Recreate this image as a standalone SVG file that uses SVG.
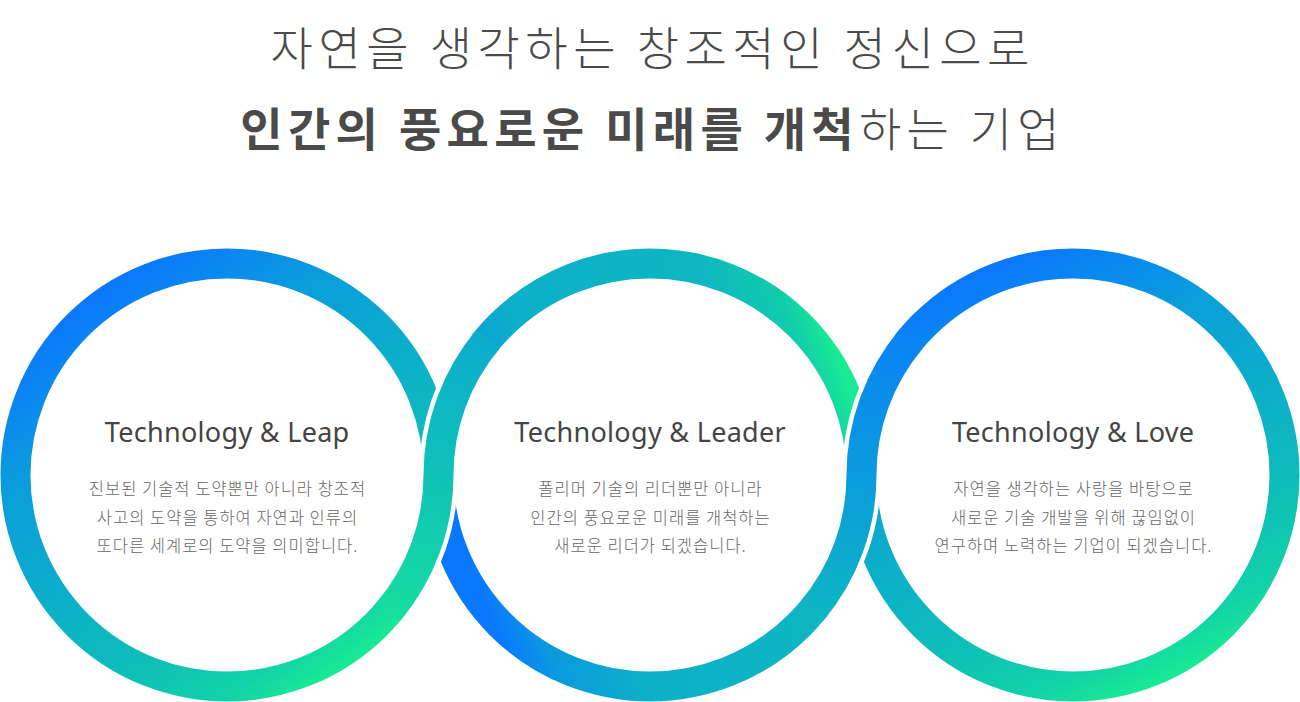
<svg xmlns="http://www.w3.org/2000/svg" width="1300" height="702" viewBox="0 0 1300 702">
  <style>
    .title { font-family: "Noto Sans CJK KR", "Noto Sans", sans-serif; font-size: 46px; fill: #4a4a4a; text-anchor: middle; }
    .light { font-weight: 300; }
    .bold { font-weight: 700; }
    .head { font-family: "Noto Sans", "Open Sans", sans-serif; font-size: 27px; letter-spacing: 0.3px; fill: #444444; text-anchor: middle; }
    .body { font-family: "Noto Sans CJK KR", "Noto Sans", sans-serif; font-size: 16.5px; letter-spacing: 1px; font-weight: 300; fill: #666666; text-anchor: middle; }
    .ring { fill: none; stroke-width: 30; }
    .gap { fill: none; stroke: #ffffff; stroke-width: 39; }
  </style>
  <defs>
    <linearGradient id="g1" gradientUnits="userSpaceOnUse" x1="97.3" y1="289.9" x2="356.7" y2="660.1">
      <stop offset="0" stop-color="#0a77ff"/>
      <stop offset="0.25" stop-color="#0a9ddc"/>
      <stop offset="0.55" stop-color="#0cb2c6"/>
      <stop offset="0.7" stop-color="#0ebbbc"/>
      <stop offset="0.9" stop-color="#12d2a8"/>
      <stop offset="1" stop-color="#19eb94"/>
    </linearGradient>
    <linearGradient id="g2" gradientUnits="userSpaceOnUse" x1="460.6" y1="539" x2="854.6" y2="405.9">
      <stop offset="0" stop-color="#0a77ff"/>
      <stop offset="0.03" stop-color="#0a7ffa"/>
      <stop offset="0.12" stop-color="#0a9ade"/>
      <stop offset="0.3" stop-color="#0cb0c8"/>
      <stop offset="0.75" stop-color="#0db6c2"/>
      <stop offset="0.92" stop-color="#11cdaa"/>
      <stop offset="1" stop-color="#19eb94"/>
    </linearGradient>
    <linearGradient id="g3" gradientUnits="userSpaceOnUse" x1="977.4" y1="270.2" x2="1168.6" y2="679.8">
      <stop offset="0" stop-color="#0a77ff"/>
      <stop offset="0.25" stop-color="#0a9ddc"/>
      <stop offset="0.55" stop-color="#0cb2c6"/>
      <stop offset="0.7" stop-color="#0ebbbc"/>
      <stop offset="0.9" stop-color="#12d2a8"/>
      <stop offset="1" stop-color="#19eb94"/>
    </linearGradient>
    <linearGradient id="s12" gradientUnits="userSpaceOnUse" x1="487.98" y1="339.05" x2="389.02" y2="610.95">
      <stop offset="0" stop-color="#0bacce"/>
      <stop offset="0.5" stop-color="#0fc2b8"/>
      <stop offset="1" stop-color="#16dea0"/>
    </linearGradient>
    <linearGradient id="s23" gradientUnits="userSpaceOnUse" x1="910.98" y1="339.05" x2="812.02" y2="610.95">
      <stop offset="0" stop-color="#0a83f4"/>
      <stop offset="0.5" stop-color="#0a9bdd"/>
      <stop offset="1" stop-color="#0db6c2"/>
    </linearGradient>
  </defs>

  <rect x="0" y="0" width="1300" height="702" fill="#ffffff"/>

  <g id="title">
    <text class="title light" x="652.75" y="65" letter-spacing="5.5">자연을 생각하는 창조적인 정신으로</text>
    <text class="title" x="652.65" y="146" letter-spacing="5.3"><tspan class="bold">인간의 풍요로운 미래를 개척</tspan><tspan class="light">하는 기업</tspan></text>
  </g>

  <g id="connectors">
    <circle class="ring" cx="227" cy="475" r="211.5" stroke="url(#g1)"/>
    <circle class="ring" cx="650" cy="475" r="211.5" stroke="url(#g2)"/>
    <circle class="ring" cx="1073" cy="475" r="211.5" stroke="url(#g3)"/>
    <path class="gap" d="M483.34 344.79 A211.5 211.5 0 0 0 438.5 475 A211.5 211.5 0 0 1 393.66 605.21"/>
    <path class="ring" stroke="url(#s12)" d="M487.98 339.05 A211.5 211.5 0 0 0 438.5 475 A211.5 211.5 0 0 1 389.02 610.95"/>
    <path class="gap" d="M906.34 344.79 A211.5 211.5 0 0 0 861.5 475 A211.5 211.5 0 0 1 816.66 605.21"/>
    <path class="ring" stroke="url(#s23)" d="M910.98 339.05 A211.5 211.5 0 0 0 861.5 475 A211.5 211.5 0 0 1 812.02 610.95"/>
  </g>

  <g id="node-leap">
    <text class="head" x="227.15" y="442">Technology &amp; Leap</text>
    <text class="body" x="227.5" y="495">진보된 기술적 도약뿐만 아니라 창조적</text>
    <text class="body" x="227.5" y="523.5">사고의 도약을 통하여 자연과 인류의</text>
    <text class="body" x="227.5" y="552">또다른 세계로의 도약을 의미합니다.</text>
  </g>

  <g id="node-leader">
    <text class="head" x="650.15" y="442">Technology &amp; Leader</text>
    <text class="body" x="650.5" y="495">폴리머 기술의 리더뿐만 아니라</text>
    <text class="body" x="650.5" y="523.5">인간의 풍요로운 미래를 개척하는</text>
    <text class="body" x="650.5" y="552">새로운 리더가 되겠습니다.</text>
  </g>

  <g id="node-love">
    <text class="head" x="1073.15" y="442">Technology &amp; Love</text>
    <text class="body" x="1073.5" y="495">자연을 생각하는 사랑을 바탕으로</text>
    <text class="body" x="1073.5" y="523.5">새로운 기술 개발을 위해 끊임없이</text>
    <text class="body" x="1073.5" y="552">연구하며 노력하는 기업이 되겠습니다.</text>
  </g>
</svg>
